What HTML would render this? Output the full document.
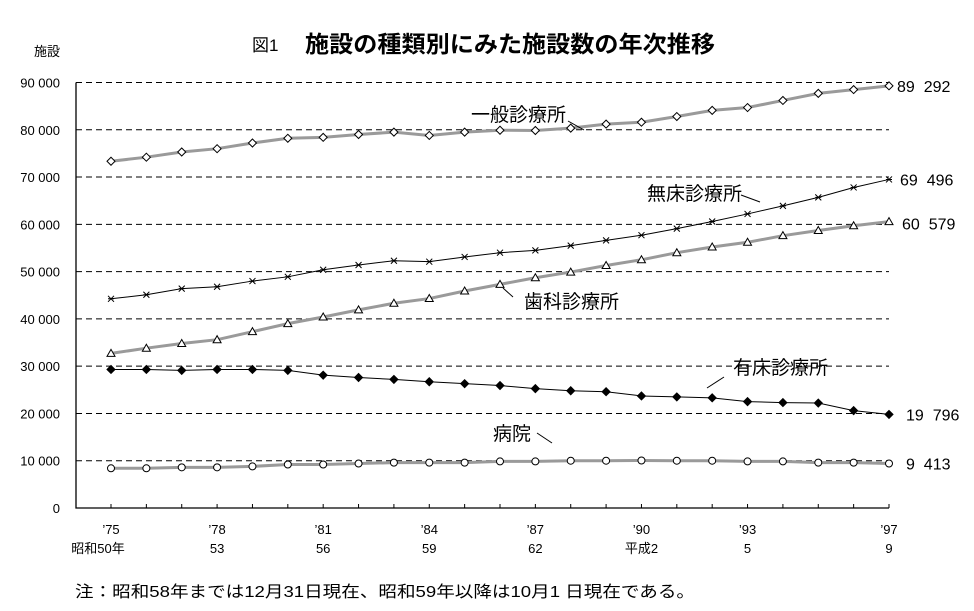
<!DOCTYPE html>
<html><head><meta charset="utf-8"><style>
body{margin:0;background:#fff;}
svg text{font-family:"Liberation Sans","Noto Sans CJK JP",sans-serif;fill:#000;}
</style></head><body>
<svg id="chart" width="974" height="606" viewBox="0 0 974 606" xmlns="http://www.w3.org/2000/svg">
<text x="252" y="51" font-size="17">図1</text>
<text x="305" y="52" font-size="23" font-weight="bold" textLength="410" lengthAdjust="spacingAndGlyphs">施設の種類別にみた施設数の年次推移</text>
<text x="34" y="56" font-size="13">施設</text>
<g id="grid"></g><g id="series"></g><g id="labels"></g>
<text x="75" y="597" font-size="16" textLength="620" lengthAdjust="spacingAndGlyphs">注：昭和58年までは12月31日現在、昭和59年以降は10月1 日現在である。</text>
</svg>
<script>
const years=['\u201975','','','\u201978','','','\u201981','','','\u201984','','','\u201987','','','\u201990','','','\u201993','','','','\u201997'];
const eraLabels=['昭和50年','','','53','','','56','','','59','','','62','','','平成2','','','5','','','','9'];
const yTicks=[0,10000,20000,30000,40000,50000,60000,70000,80000,90000];
const ippan=[73340,74200,75300,76000,77200,78200,78400,79000,79500,78800,79500,79900,79850,80350,81200,81600,82800,84100,84700,86200,87700,88500,89292];
const mushou=[44250,45100,46400,46800,48000,48900,50400,51400,52300,52100,53100,54000,54500,55500,56600,57700,59100,60600,62200,63900,65700,67800,69496];
const shika=[32700,33800,34800,35600,37300,39000,40400,41900,43300,44300,45900,47300,48700,49900,51300,52500,54000,55200,56200,57600,58700,59700,60579];
const yushou=[29300,29300,29100,29300,29300,29100,28100,27600,27200,26700,26300,25900,25250,24800,24600,23700,23500,23300,22500,22300,22200,20600,19796];
const byouin=[8400,8400,8600,8600,8800,9200,9200,9400,9600,9600,9600,9850,9850,10000,10000,10050,10000,10000,9850,9850,9600,9600,9413];
const endLabels=['89  292','69  496','60  579','19  796','9  413'];

const NS='http://www.w3.org/2000/svg';
const X=i=>111+i*(889-111)/22;
const Y=v=>508-v*(508-82.5)/90000;
function mk(tag,attrs,parent){const e=document.createElementNS(NS,tag);for(const k in attrs)e.setAttribute(k,attrs[k]);parent.appendChild(e);return e;}
const grid=document.getElementById('grid'),ser=document.getElementById('series'),lab=document.getElementById('labels');
yTicks.forEach(v=>{
  if(v>0){const l=mk('line',{x1:76,x2:889,y1:Y(v),y2:Y(v),stroke:'#000','stroke-width':1,'stroke-dasharray':'6,4'},grid);
  
  }
  const t=mk('text',{x:60,y:Y(v)+5,'font-size':13,'text-anchor':'end'},grid);
  t.textContent=v===0?'0':(Math.floor(v/1000)+' 000');
  
  
});
const ax=mk('path',{d:'M76 '+Y(90000)+' V508 H889',fill:'none',stroke:'#000','stroke-width':1.3},grid);


years.forEach((y,i)=>{
  const tk=mk('line',{x1:X(i),x2:X(i),y1:508,y2:504,stroke:'#000'},grid);
  
  
  if(y){const t=mk('text',{x:X(i),y:534,'font-size':13,'text-anchor':'middle'},grid);t.textContent=y;
  
  }
  if(eraLabels[i]){const t=mk('text',{x:i===0?X(i)-13:X(i),y:553,'font-size':13,'text-anchor':'middle'},grid);t.textContent=eraLabels[i];
  
  }
});
function series(vals,name,gray,marker){
  const g=mk('g',{},ser);
  
  
  const pts=vals.map((v,i)=>X(i)+','+Y(v)).join(' ');
  mk('polyline',{points:pts,fill:'none',stroke:gray?'#9a9a9a':'#000','stroke-width':gray?3:1},g);
  vals.forEach((v,i)=>{
    const x=X(i),y=Y(v);let m;
    if(marker==='diamond')m=mk('path',{d:`M${x-4} ${y}L${x} ${y-4}L${x+4} ${y}L${x} ${y+4}Z`,fill:'#fff',stroke:'#000'},g);
    else if(marker==='fdiamond')m=mk('path',{d:`M${x-4} ${y}L${x} ${y-4}L${x+4} ${y}L${x} ${y+4}Z`,fill:'#000',stroke:'#000'},g);
    else if(marker==='tri')m=mk('path',{d:`M${x-4} ${y+3}L${x} ${y-4}L${x+4} ${y+3}Z`,fill:'#fff',stroke:'#000'},g);
    else if(marker==='circ')m=mk('circle',{cx:x,cy:y,r:3.5,fill:'#fff',stroke:'#000'},g);
    else m=mk('path',{d:`M${x-3} ${y-3}L${x+3} ${y+3}M${x+3} ${y-3}L${x-3} ${y+3}M${x-3} ${y}H${x+3}`,stroke:'#000',fill:'none'},g);
    
    
  });
}
series(ippan,'series-ippan',true,'diamond');
series(mushou,'series-mushou',false,'x');
series(shika,'series-shika',true,'tri');
series(yushou,'series-yushou',false,'fdiamond');
series(byouin,'series-byouin',true,'circ');
[ippan,mushou,shika,yushou,byouin].forEach((s,k)=>{
  const t=mk('text',{x:[897,900,902,906,906][k],y:Y(s[22])+6+(k===2?2:0),'font-size':16,'xml:space':'preserve'},lab);
  t.style.whiteSpace='pre';
  t.textContent=endLabels[k];
  
  
});
const names=[['一般診療所',471,121,568,121,584,130],['無床診療所',647,200,741,195,760,202],['歯科診療所',524,308,513,297,503,288],['有床診療所',733,374,724,377,707,388],['病院',493,440,537,433,552,443]];
names.forEach(n=>{
  const t=mk('text',{x:n[1],y:n[2],'font-size':19},lab);t.textContent=n[0];
  
  
  const l=mk('line',{x1:n[3],y1:n[4],x2:n[5],y2:n[6],stroke:'#000'},lab);
  
  
});
</script>
</body></html>
